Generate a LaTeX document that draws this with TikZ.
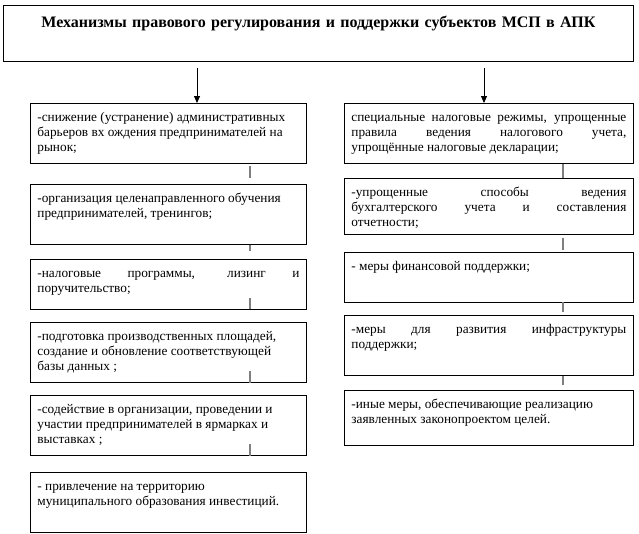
\documentclass[tikz,border=0pt]{standalone}
\usepackage{fontspec}
\setmainfont{Liberation Serif}
\usepackage{xcolor}
\definecolor{cg}{HTML}{7f7f7f}
\usepackage{tikz}
\usetikzlibrary{arrows.meta,positioning}

\begin{document}
\begin{tikzpicture}[
  x=1pt, y=-1pt, >={Triangle[length=7pt,width=6pt]}, line width=0.8pt,
  head/.style={draw, anchor=north west, text width=616pt, align=center, inner xsep=7pt, inner ysep=7pt,
    text height=15pt, text depth=27pt, font=\bfseries\fontsize{16}{18}\selectfont},
  lbox/.style={draw, anchor=north west, text width=262pt, align=justify, inner xsep=7pt, inner ysep=7pt,
    text height=11pt, text depth=#1, font=\fontsize{13.3}{15}\selectfont},
  rbox/.style={lbox=#1, text width=275pt},
  tick/.style={draw=cg, line width=2pt},
]
  \useasboundingbox (0,0) rectangle (639,533);

  \node[head] (head) at (3,5) {Механизмы правового регулирования и поддержки субъектов МСП в АПК};

  \node[lbox=35pt] (l1) at (30,103) {-снижение (устранение) административных\\ барьеров вх ождения предпринимателей на\\ рынок;};
  \node[lbox=35pt, below=20pt of l1] (l2) {-организация целенаправленного обучения\\ предпринимателей, тренингов;};
  \node[lbox=25pt, below=14pt of l2] (l3) {-налоговые программы, лизинг и\linebreak поручительство;};
  \node[lbox=35pt, below=13pt of l3] (l4) {-подготовка производственных площадей,\\ создание и обновление соответствующей\\ базы данных ;};
  \node[lbox=35pt, below=12pt of l4] (l5) {-содействие в организации, проведении и\\ участии предпринимателей в ярмарках и\\ выставках ;};
  \node[lbox=35pt, below=16pt of l5] (l6) {- привлечение на территорию\\ муниципального образования инвестиций.};

  \node[rbox=35pt] (r1) at (344,103) {специальные налоговые режимы, упрощенные\linebreak правила ведения налогового учета,\linebreak упрощённые налоговые декларации;};
  \node[rbox=31pt, below=14pt of r1] (r2) {-упрощенные способы ведения\linebreak бухгалтерского учета и составления\linebreak отчетности;};
  \node[rbox=25pt, below=17pt of r2] (r3) {- меры финансовой поддержки;};
  \node[rbox=35pt, below=13pt of r3] (r4) {-меры для развития инфраструктуры\linebreak поддержки;};
  \node[rbox=30pt, below=14pt of r4] (r5) {-иные меры, обеспечивающие реализацию\\ заявленных законопроектом целей.};

  \coordinate (al) at (197,68);
  \coordinate (ar) at (484,68);
  \coordinate (tl) at (250,0);
  \coordinate (tr) at (563,0);

  \draw[->] (al) -- (al |- l1.north);
  \draw[->] (ar) -- (ar |- r1.north);

  \draw[tick] (l1.south -| tl) ++(0,2) -- ++(0,12);
  \draw[tick] (l2.south -| tl) -- ++(0,6);
  \draw[tick] (l3.south -| tl) -- ++(0,-11);
  \draw[tick] (l4.south -| tl) -- ++(0,-12);
  \draw[tick] (l5.south -| tl) -- ++(0,-12);
  \draw[tick] (r1.south -| tr) -- ++(0,14);
  \draw[tick] (r2.south -| tr) ++(0,3) -- ++(0,12);
  \draw[tick] (r3.south -| tr) -- ++(0,10);
  \draw[tick] (r4.south -| tr) -- ++(0,9);
\end{tikzpicture}
\end{document}
